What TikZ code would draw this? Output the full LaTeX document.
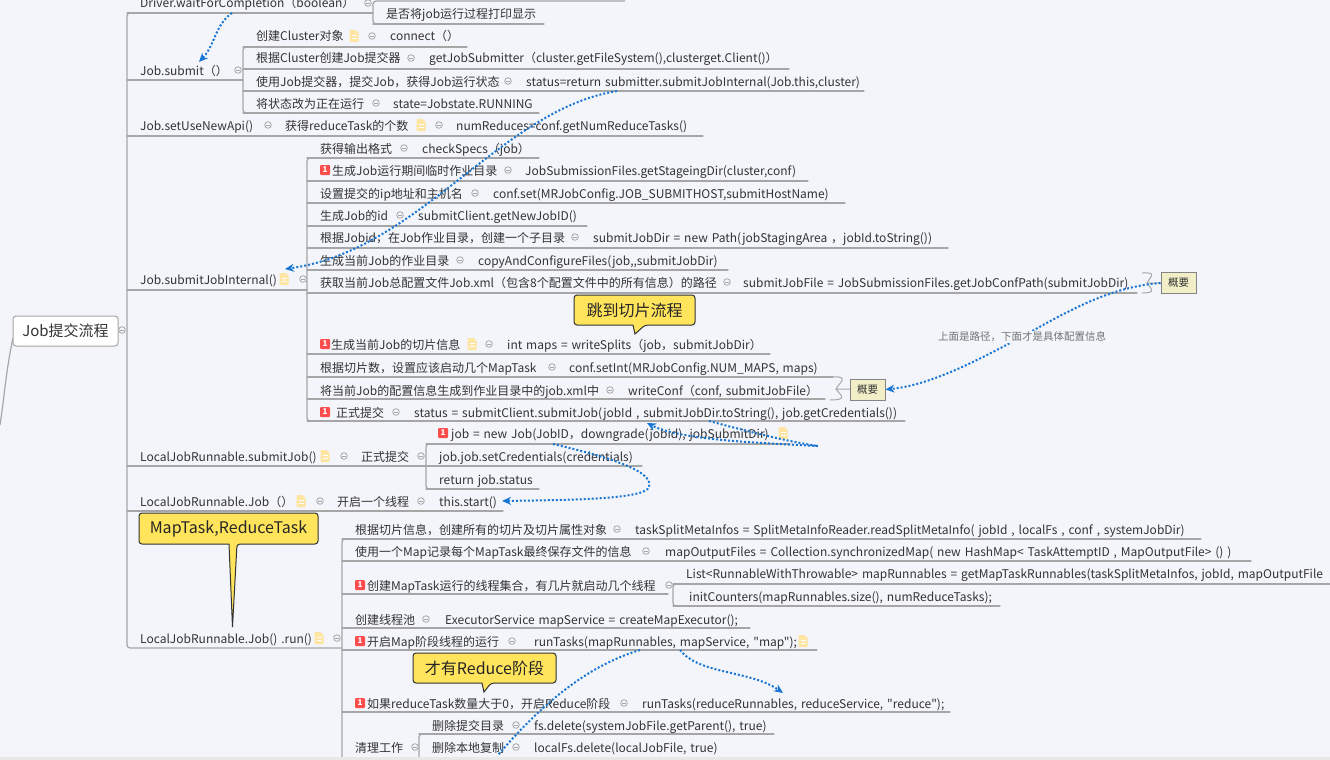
\documentclass[tikz,border=0pt]{standalone}
\usepackage{fontspec}
\usetikzlibrary{arrows.meta}
\setmainfont{Noto Sans CJK SC}
\newfontfamily\plainf[WordSpace=1.45]{Noto Sans CJK SC}
\definecolor{bgc}{HTML}{F3F5FB}
\definecolor{linec}{HTML}{A6A6A6}
\definecolor{txtc}{HTML}{333333}
\definecolor{bluec}{HTML}{1976D2}
\definecolor{notec}{HTML}{FFE5A3}
\definecolor{yel}{HTML}{FFE45C}
\definecolor{sumc}{HTML}{F2EFC8}
\tikzset{
  x=1pt,y=-1pt,
  rowtext/.style={anchor=base west,inner sep=0pt,text=txtc,font=\plainf\fontsize{12}{15}\selectfont},
  branch/.style={draw=linec,line width=1.2pt,line cap=round},
  trunk/.style={draw=linec,line width=1.2pt,rounded corners=3pt},
  link/.style={draw=bluec,line width=2pt,dash pattern=on 2pt off 2pt},
  tipped/.style={-{Stealth[length=9pt,width=8pt,fill=bluec]}},
  sumbox/.style={draw=linec!80!black,line width=1pt,fill=sumc,text=txtc,minimum width=35pt,minimum height=21pt,inner sep=0pt,font=\fontsize{10.5}{13}\selectfont},
  calltxt/.style={text=black!85,inner sep=0pt,font=\fontsize{16}{19}\selectfont},
}
\newcommand\RowT[4]{\node[rowtext] (#1) at (#2,#3+5) {#4};}
\newcommand\UL[3]{\draw[branch] (#1,#3) -- (#2,#3);}
\newcommand\iconFold[2]{\draw[linec,line width=.8pt,fill=bgc] (#1,#2) circle (3.3pt); \draw[linec,line width=.8pt] (#1-1.8,#2) -- (#1+1.8,#2);}
\newcommand\iconNote[2]{\fill[notec] (#1-4.5,#2-6) -- (#1+1.5,#2-6) -- (#1+4.5,#2-3) -- (#1+4.5,#2+6) -- (#1-4.5,#2+6) -- cycle;
  \draw[white,line width=.7pt] (#1-2.5,#2-.5) -- (#1+2.5,#2-.5) (#1-2.5,#2+2) -- (#1+2.5,#2+2);}
\newcommand\iconOne[2]{\fill[red!70!white,rounded corners=1pt] (#1,#2-5) rectangle (#1+10,#2+5);
  \node[inner sep=0pt,text=white,font=\fontsize{8}{9}\selectfont\bfseries] at (#1+5,#2) {1};}
\newcommand\Callout[9]{\draw[fill=yel,draw=black!80,line width=1pt,rounded corners=3pt] (#1,#2) -- (#3,#2) -- (#3,#4) -- (#6,#4) [sharp corners] -- (#7,#8) -- (#5,#4) [rounded corners=3pt] -- (#1,#4) -- cycle;
  \node[calltxt] at ({(#1+#3)/2},{(#2+#4)/2}) {#9};}
\begin{document}
\begin{tikzpicture}
\useasboundingbox (0,0) rectangle (1330,760);
\clip (0,0) rectangle (1330,760);
\fill[bgc] (0,0) rectangle (1330,760);
% trunks
\draw[trunk] (243,13) -- (127,13) -- (127,648) -- (342,648);
\draw[trunk] (340,47) -- (243,47) -- (243,113) -- (300,113);
\draw[trunk] (360,158) -- (307,158) -- (307,421) -- (360,421);
\draw[trunk] (480,444) -- (426,444) -- (426,489) -- (480,489);
\draw[trunk] (400,539) -- (342,539) -- (342,775);
\draw[trunk] (700,584) -- (673,584) -- (673,606) -- (700,606);
\draw[trunk] (480,734) -- (419,734) -- (419,775);
\draw[trunk] (625,1) -- (373,1) -- (373,24) -- (430,24);
% root
\draw[linec,line width=1.2pt] (13,338) .. controls (6,370) and (4,400) .. (0,425);
\node[draw=linec,line width=1pt,fill=white,rounded corners=3pt,minimum width=105pt,minimum height=30pt,inner sep=0pt,text=txtc,font=\fontsize{15}{18}\selectfont] (root) at (65.5,331) {Job提交流程};
\iconFold{122}{330}
% level one
\RowT{wait}{140}{3}{Driver.waitForCompletion（boolean）} \iconFold{368}{3}
\UL{127}{373}{13}
\RowT{waitb}{386}{14}{是否将job运行过程打印显示} \UL{373}{544}{24}
\RowT{submit}{140}{70}{Job.submit（）} \iconFold{238}{70} \UL{127}{243}{80}
\RowT{s1}{256}{36}{创建Cluster对象} \iconNote{354}{36} \iconFold{372}{36} \RowT{s1b}{390}{36}{connect（）} \UL{243}{467}{47}
\RowT{s2}{256}{58}{根据Cluster创建Job提交器} \iconFold{411}{58} \RowT{s2b}{429}{58}{getJobSubmitter（cluster.getFileSystem(),clusterget.Client()）} \UL{243}{789}{69}
\RowT{s3}{256}{81}{使用Job提交器，提交Job，获得Job运行状态} \iconFold{508}{81} \RowT{s3b}{526}{81}{status=return submitter.submitJobInternal(Job.this,cluster)} \UL{243}{864}{91}
\RowT{s4}{256}{103}{将状态改为正在运行} \iconFold{376}{103} \RowT{s4b}{393}{103}{state=Jobstate.RUNNING} \UL{243}{539}{113}
\RowT{api}{140}{125}{Job.setUseNewApi()} \iconFold{268}{125} \RowT{apib}{285}{125}{获得reduceTask的个数} \iconNote{421}{125} \iconFold{439}{125} \RowT{apic}{456}{125}{numReduces=conf.getNumReduceTasks()} \UL{127}{703}{136}
\RowT{inter}{140}{279}{Job.submitJobInternal()} \iconNote{284}{279} \iconFold{303}{279} \UL{127}{307}{290}
% internal children
\RowT{i1}{320}{148}{获得输出格式} \iconFold{404}{148} \RowT{i1b}{422}{148}{checkSpecs（job）} \UL{307}{539}{158}
\iconOne{320}{170} \RowT{i2}{332}{170}{生成Job运行期间临时作业目录} \iconFold{508}{170} \RowT{i2b}{525}{170}{JobSubmissionFiles.getStageingDir(cluster,conf)} \UL{307}{808}{181}
\RowT{i3}{320}{193}{设置提交的ip地址和主机名} \iconFold{475}{193} \RowT{i3b}{493}{193}{conf.set(MRJobConfig.JOB\_SUBMITHOST,submitHostName)} \UL{307}{845}{203}
\RowT{i4}{320}{215}{生成Job的id} \iconFold{400}{215} \RowT{i4b}{418}{215}{submitClient.getNewJobID()} \UL{307}{587}{226}
\RowT{i5}{320}{237}{根据Jobid，在Job作业目录，创建一个子目录} \iconFold{575}{237} \RowT{i5b}{593}{237}{submitJobDir = new Path(jobStagingArea ，jobId.toString())} \UL{307}{948}{248}
\RowT{i6}{320}{260}{生成当前Job的作业目录} \iconFold{460}{260} \RowT{i6b}{478}{260}{copyAndConfigureFiles(job,,submitJobDir)} \UL{307}{728}{270}
\RowT{i7}{320}{282}{获取当前Job总配置文件Job.xml（包含8个配置文件中的所有信息）的路径} \iconFold{727}{282} \RowT{i7b}{743}{282}{submitJobFile = JobSubmissionFiles.getJobConfPath(submitJobDir)} \UL{307}{1137}{293}
\iconOne{320}{344} \RowT{i8}{331}{344}{生成当前Job的切片信息} \iconNote{472}{344} \iconFold{489}{344} \RowT{i8b}{507}{344}{int maps = writeSplits（job，submitJobDir）} \UL{307}{770}{354}
\RowT{i9}{320}{367}{根据切片数，设置应该启动几个MapTask} \iconFold{552}{367} \RowT{i9b}{569}{367}{conf.setInt(MRJobConfig.NUM\_MAPS, maps)} \UL{307}{833}{377}
\RowT{i10}{320}{390}{将当前Job的配置信息生成到作业目录中的job.xml中} \iconFold{610}{390} \RowT{i10b}{628}{390}{writeConf（conf, submitJobFile）} \UL{307}{825}{399}
\iconOne{320}{412} \RowT{i11}{336}{412}{正式提交} \iconFold{396}{412} \RowT{i11b}{414}{412}{status = submitClient.submitJob(jobId , submitJobDir.toString(), job.getCredentials())} \UL{307}{905}{421}
% submit job
\RowT{ljs}{140}{456}{LocalJobRunnable.submitJob()} \iconNote{325}{456} \iconFold{344}{456} \RowT{ljsb}{361}{456}{正式提交} \iconFold{421}{456} \UL{127}{426}{466}
\iconOne{438}{433} \RowT{j1}{451}{433}{job = new Job(JobID，downgrade(jobid), jobSubmitDir)} \iconNote{783}{433} \UL{426}{790}{444}
\RowT{j2}{439}{456}{job.job.setCredentials(credentials)} \UL{426}{642}{466}
\RowT{j3}{439}{479}{return job.status} \UL{426}{539}{489}
\RowT{lj}{140}{501}{LocalJobRunnable.Job（）} \iconNote{301}{501} \iconFold{320}{501} \RowT{ljb}{337}{501}{开启一个线程} \iconFold{421}{501} \RowT{ljc}{439}{501}{this.start()} \UL{127}{503}{511}
% run
\RowT{run}{140}{638}{LocalJobRunnable.Job() .run()} \iconNote{319}{638} \iconFold{337}{638}
\RowT{r1}{355}{529}{根据切片信息，创建所有的切片及切片属性对象} \iconFold{617}{529} \RowT{r1b}{635}{529}{taskSplitMetaInfos = SplitMetaInfoReader.readSplitMetaInfo( jobId , localFs , conf , systemJobDir)} \UL{342}{1201}{539}
\RowT{r2}{355}{551}{使用一个Map记录每个MapTask最终保存文件的信息} \iconFold{646}{551} \RowT{r2b}{665}{551}{mapOutputFiles = Collection.synchronizedMap( new HashMap< TaskAttemptID , MapOutputFile> () )} \UL{342}{1251}{561}
\iconOne{355}{585} \RowT{r3}{367}{585}{创建MapTask运行的线程集合，有几片就启动几个线程} \iconFold{669}{585} \UL{342}{668}{594}
\RowT{r3a}{686}{573}{List<RunnableWithThrowable> mapRunnables = getMapTaskRunnables(taskSplitMetaInfos, jobId, mapOutputFile} \UL{673}{1330}{584}
\RowT{r3c}{689}{596}{initCounters(mapRunnables.size(), numReduceTasks);} \UL{673}{1000}{606}
\RowT{r4}{355}{619}{创建线程池} \iconFold{426}{619} \RowT{r4b}{445}{619}{ExecutorService mapService = createMapExecutor();} \UL{342}{750}{628}
\iconOne{355}{641} \RowT{r5}{367}{641}{开启Map阶段线程的运行} \iconFold{512}{641} \RowT{r5b}{534}{641}{runTasks(mapRunnables, mapService, "map");} \iconNote{803}{641} \UL{342}{817}{650}
\iconOne{355}{703} \RowT{r6}{367}{703}{如果reduceTask数量大于0，开启Reduce阶段} \iconFold{624}{703} \RowT{r6b}{642}{703}{runTasks(reduceRunnables, reduceService, "reduce");} \UL{342}{950}{712}
\RowT{r7}{355}{747}{清理工作} \iconFold{415}{747}
\RowT{r7a}{432}{725}{删除提交目录} \iconFold{516}{725} \RowT{r7ab}{534}{725}{fs.delete(systemJobFile.getParent(), true)} \UL{419}{774}{734}
\RowT{r7c}{432}{747}{删除本地复制} \iconFold{516}{747} \RowT{r7cb}{534}{747}{localFs.delete(localJobFile, true)}
% summaries
\draw[linec,line width=1pt] (1142,273) .. controls (1158,272) and (1150,277) .. (1147,283) .. controls (1150,288) and (1158,293) .. (1142,293) (1147,283) -- (1161,283);
\node[sumbox] (sumA) at (1178.5,283) {概要};
\draw[linec,line width=1pt] (833,377) .. controls (850,376) and (839,383) .. (836,389) .. controls (839,394) and (850,400) .. (830,400) (836,389) -- (850,389);
\node[sumbox] (sumB) at (867.5,389.5) {概要};
% callouts
\Callout{574}{295}{695}{325}{633}{645}{635}{334}{跳到切片流程}
\Callout{139}{513}{318}{544}{229}{237}{232.5}{627}{MapTask,ReduceTask}
\Callout{413}{653}{556}{683}{482}{491}{484}{692}{才有Reduce阶段}
% links
\coordinate (a1) at (232,13); \coordinate (b1) at (199,62);
\draw[link,tipped] (a1) .. controls (215,25) and (215,45) .. (b1);
\coordinate (a2) at (617,91); \coordinate (b2) at (285,269);
\draw[link,tipped] (a2) .. controls (500,110) and (420,250) .. (b2);
\draw[link,tipped] (sumA.west) .. controls (1110,287) and (1070,310) .. (1025,335) .. controls (975,362) and (930,385) .. (sumB.east);
\coordinate (a4) at (709,421); \coordinate (b4) at (647,423);
\draw[link,tipped] (a4) .. controls (750,432) and (790,442) .. (818,446) .. controls (760,443) and (680,440) .. (b4);
\coordinate (a5) at (553,444); \coordinate (b5) at (502,501);
\draw[link,tipped] (a5) .. controls (600,455) and (655,470) .. (649,487) .. controls (645,500) and (560,500) .. (b5);
\coordinate (a6) at (640,650); \coordinate (b6) at (498,755);
\draw[link] (a6) .. controls (590,665) and (545,700) .. (b6);
\coordinate (a7) at (680,650); \coordinate (b7) at (783,693);
\draw[link,tipped] (a7) .. controls (700,675) and (750,670) .. (b7);
% label over the link
\node[fill=bgc,inner sep=1pt,text=black!55,font=\fontsize{10.5}{12}\selectfont] (lab) at (1022,337) {上面是路径，下面才是具体配置信息};
% bottom band
\fill[black!9] (0,757) rectangle (1330,760);
\end{tikzpicture}
\end{document}
